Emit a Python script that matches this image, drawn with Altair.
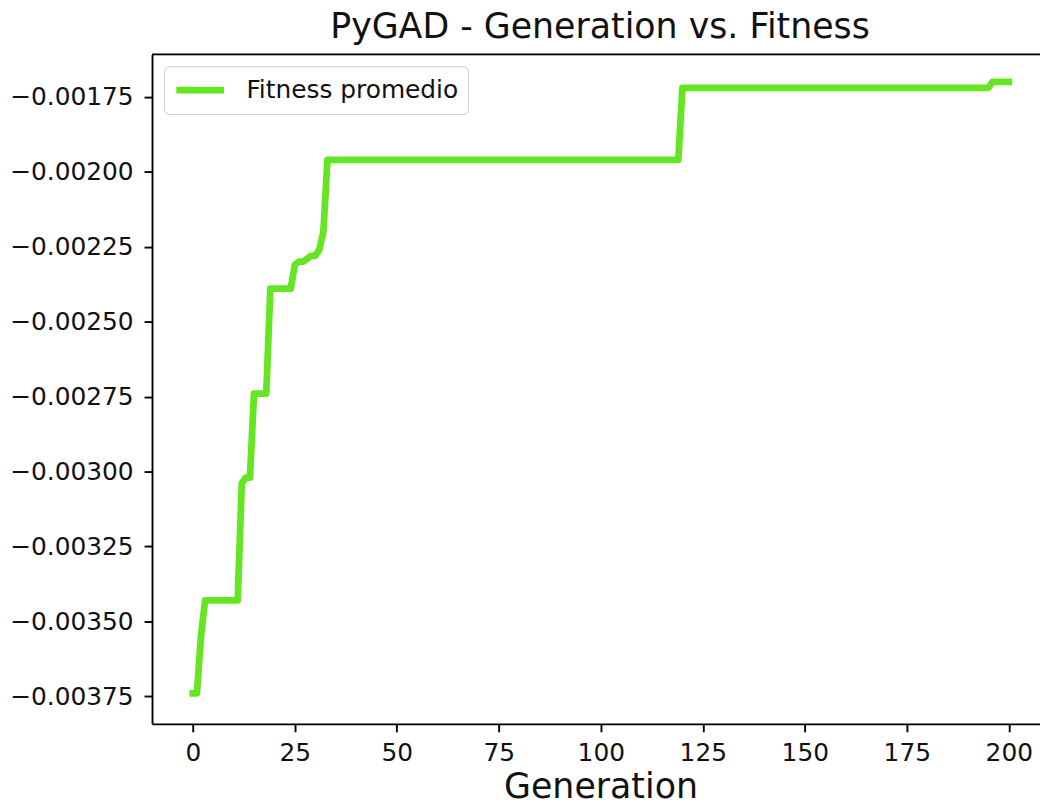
import altair as alt
import pandas as pd

# Vertices of the fitness curve (generation, average fitness)
generations = [0, 1, 2, 3, 11, 12, 13, 14, 15, 18, 19, 24, 25, 26, 27, 28, 29, 30,
               31, 32, 33, 119, 120, 195, 196, 200]
fitness = [-0.00374, -0.00374, -0.00355, -0.00343, -0.00343, -0.00304, -0.00302,
           -0.00302, -0.00274, -0.00274, -0.00239, -0.00239, -0.00231, -0.00230,
           -0.00230, -0.00229, -0.00228, -0.00228, -0.00226, -0.00220, -0.00196,
           -0.00196, -0.00172, -0.00172, -0.00170, -0.00170]
series_name = "Fitness promedio"
x_ticks = [0, 25, 50, 75, 100, 125, 150, 175, 200]
y_ticks = [-0.00375, -0.00350, -0.00325, -0.00300, -0.00275, -0.00250,
           -0.00225, -0.00200, -0.00175]

df = pd.DataFrame({"gen": generations, "fit": fitness, "serie": [series_name] * len(generations)})

FONT = "DejaVu Sans"
W, H = 894, 674
GREEN = "#66e522"

line = alt.Chart(df).mark_line(
    strokeWidth=6.8, strokeJoin="round", strokeCap="square"
).encode(
    x=alt.X("gen:Q",
            scale=alt.Scale(domain=[-10, 207.65], nice=False, zero=False),
            axis=alt.Axis(values=x_ticks, title="Generation", grid=False,
                          labelFontSize=25, labelPadding=9, tickSize=8, tickWidth=1.9,
                          tickColor="black", domainColor="black", domainWidth=1.9,
                          labelColor="#111111", labelFont=FONT,
                          titleFont=FONT, titleFontSize=35, titleFontWeight="normal",
                          titleColor="#111111", titleX=451.5, titleY=74,
                          titleBaseline="alphabetic", titleAlign="center")),
    y=alt.Y("fit:Q",
            scale=alt.Scale(domain=[-0.003842, -0.001608], nice=False, zero=False),
            axis=alt.Axis(values=y_ticks, format=".5f", title=None, grid=False,
                          labelFontSize=25, labelPadding=11, tickSize=8, tickWidth=1.9,
                          tickColor="black", domainColor="black", domainWidth=1.9,
                          labelColor="#111111", labelFont=FONT)),
    color=alt.Color("serie:N", scale=alt.Scale(range=[GREEN]),
                    legend=alt.Legend(title=None, orient="top-left", offset=12,
                                      symbolType="stroke", symbolSize=2304,
                                      symbolStrokeWidth=7, clipHeight=30,
                                      labelFontSize=25, labelFont=FONT, labelLimit=500,
                                      labelColor="#111111", labelOffset=19,
                                      padding=9, cornerRadius=5,
                                      strokeColor="#cccccc", fillColor="white")),
)

top_border = alt.Chart(pd.DataFrame({"k": [0]})).mark_rule(
    color="black", strokeWidth=1.9
).encode(x=alt.value(0), x2=alt.value(W), y=alt.value(0))

chart = alt.layer(line, top_border).properties(
    width=W, height=H,
    title=alt.TitleParams("PyGAD - Generation vs. Fitness", font=FONT, fontSize=35,
                          fontWeight="normal", color="#111111", offset=9, dx=4),
    padding={"left": 145, "top": 44, "right": 0, "bottom": 77},
    autosize=alt.AutoSizeParams(type="none"),
).configure_view(stroke=None).configure(background="white")

chart.save("out.html", embed_options={"renderer": "svg", "actions": False})
